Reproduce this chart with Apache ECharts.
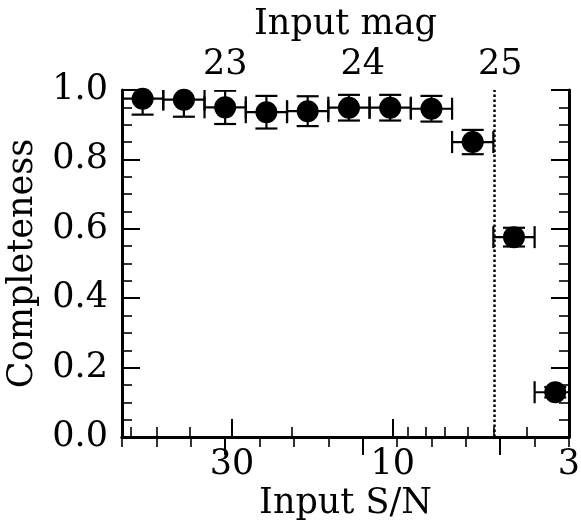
<!DOCTYPE html>
<html>
<head>
<meta charset="utf-8">
<script src="https://cdn.jsdelivr.net/npm/echarts@6/dist/echarts.min.js"></script>
<style>
  html, body { margin: 0; padding: 0; background: #fff; }
  #chart { width: 581px; height: 520px; }
</style>
</head>
<body>
<div id="chart"></div>
<script>
// 输入星等 (bin centre) 及完整度
const mags = [22.4, 22.7, 23.0, 23.3, 23.6, 23.9, 24.2, 24.5, 24.8, 25.1, 25.4];
const completeness = [0.975, 0.972, 0.950, 0.936, 0.939, 0.949, 0.949, 0.946, 0.850, 0.576, 0.129];
const compErr = [0.046, 0.049, 0.048, 0.047, 0.043, 0.037, 0.037, 0.037, 0.035, 0.027, 0.015];
const magHalfBin = [0.15, 0.15, 0.15, 0.15, 0.15, 0.15, 0.15, 0.15, 0.15, 0.15, 0.15];

// 坐标轴刻度
const magTicks = [23, 24, 25];
const snTicks = [3, 10, 30];
const snMinorTicks = [4, 5, 6, 7, 8, 9, 20, 40, 50, 60];
const snLimit = 5;   // 虚线位置

const font = 'DejaVu Serif';
const fs = 35;
const black = '#000';

const magMin = 22.25, magMax = 25.5;
const snMin = Math.log10(3), snMax = Math.log10(63.6);

const errData = mags.map((m, i) => [m, completeness[i], compErr[i], magHalfBin[i]]);
const pts = mags.map((m, i) => [m, completeness[i]]);

function tickLine(len, w) {
  return { show: true, inside: true, length: len, lineStyle: { color: black, width: w } };
}

const chart = echarts.init(document.getElementById('chart'));
chart.setOption({
  backgroundColor: '#fff',
  animation: false,
  grid: { left: 122, right: 12, top: 90, bottom: 83, containLabel: false, outerBoundsMode: 'none' },
  xAxis: [
    {
      // 顶部：星等
      type: 'value', position: 'top', min: magMin, max: magMax,
      name: 'Input mag', nameLocation: 'middle', nameGap: 47,
      nameTextStyle: { fontFamily: font, fontSize: fs, color: black },
      axisLine: { show: true, lineStyle: { color: black, width: 3 } },
      axisTick: Object.assign(tickLine(18, 2), { customValues: magTicks }),
      axisLabel: { customValues: magTicks, fontFamily: font, fontSize: fs, color: black, margin: 8 },
      splitLine: { show: false }
    },
    {
      type: 'value', position: 'top', min: magMin, max: magMax, interval: 0.25,
      axisLine: { show: false }, axisTick: tickLine(10, 1.6),
      axisLabel: { show: false }, splitLine: { show: false }
    },
    {
      // 底部：S/N (log)
      type: 'value', position: 'bottom', min: snMin, max: snMax, inverse: true,
      name: 'Input S/N', nameLocation: 'middle', nameGap: 46,
      nameTextStyle: { fontFamily: font, fontSize: fs, color: black },
      axisLine: { show: true, lineStyle: { color: black, width: 3 } },
      axisTick: Object.assign(tickLine(18, 2), { customValues: snTicks.map(Math.log10) }),
      axisLabel: {
        customValues: snTicks.map(Math.log10),
        formatter: v => String(Math.round(Math.pow(10, v))),
        fontFamily: font, fontSize: fs, color: black, margin: 10
      },
      splitLine: { show: false }
    },
    {
      type: 'value', position: 'bottom', min: snMin, max: snMax, inverse: true,
      axisLine: { show: false },
      axisTick: Object.assign(tickLine(10, 1.6), { customValues: snMinorTicks.map(Math.log10) }),
      axisLabel: { show: false }, splitLine: { show: false }
    }
  ],
  yAxis: [
    {
      type: 'value', position: 'left', min: 0, max: 1, interval: 0.2,
      name: 'Completeness', nameLocation: 'middle', nameGap: 82,
      nameTextStyle: { fontFamily: font, fontSize: fs, color: black },
      axisLine: { show: true, lineStyle: { color: black, width: 3 } },
      axisTick: tickLine(18, 2),
      minorTick: { show: true, splitNumber: 4, length: 10, lineStyle: { color: black, width: 1.6 } },
      axisLabel: { formatter: v => v.toFixed(1), fontFamily: font, fontSize: fs, color: black, margin: 14 },
      splitLine: { show: false }, minorSplitLine: { show: false }
    },
    {
      type: 'value', position: 'right', min: 0, max: 1, interval: 0.2,
      axisLine: { show: true, lineStyle: { color: black, width: 3 } },
      axisTick: tickLine(18, 2),
      minorTick: { show: true, splitNumber: 4, length: 10, lineStyle: { color: black, width: 1.6 } },
      axisLabel: { show: false },
      splitLine: { show: false }, minorSplitLine: { show: false }
    }
  ],
  series: [
    {
      // S/N = 5 虚线
      type: 'line', xAxisIndex: 2, yAxisIndex: 0, data: [],
      markLine: {
        silent: true, symbol: 'none', label: { show: false },
        lineStyle: { color: black, type: 'dotted', width: 2.5 },
        data: [{ xAxis: Math.log10(snLimit) }]
      }
    },
    {
      type: 'custom', xAxisIndex: 0, yAxisIndex: 0, clip: true, z: 3,
      data: errData,
      renderItem(params, api) {
        const x = api.value(0), y = api.value(1), ey = api.value(2), ex = api.value(3);
        const t = api.coord([x, y + ey]), b = api.coord([x, y - ey]);
        const l = api.coord([x - ex, y]), r = api.coord([x + ex, y]);
        const cap = 11;
        const st = { stroke: black, lineWidth: 2.2 };
        const seg = (x1, y1, x2, y2) => ({ type: 'line', shape: { x1, y1, x2, y2 }, style: st });
        return {
          type: 'group',
          children: [
            seg(t[0], t[1], b[0], b[1]),
            seg(t[0] - cap, t[1], t[0] + cap, t[1]),
            seg(b[0] - cap, b[1], b[0] + cap, b[1]),
            seg(l[0], l[1], r[0], r[1]),
            seg(l[0], l[1] - cap, l[0], l[1] + cap),
            seg(r[0], r[1] - cap, r[0], r[1] + cap)
          ]
        };
      }
    },
    {
      type: 'scatter', xAxisIndex: 0, yAxisIndex: 0, z: 4,
      symbol: 'circle', symbolSize: 22,
      itemStyle: { color: black, opacity: 1 },
      data: pts
    }
  ]
});
</script>
</body>
</html>
